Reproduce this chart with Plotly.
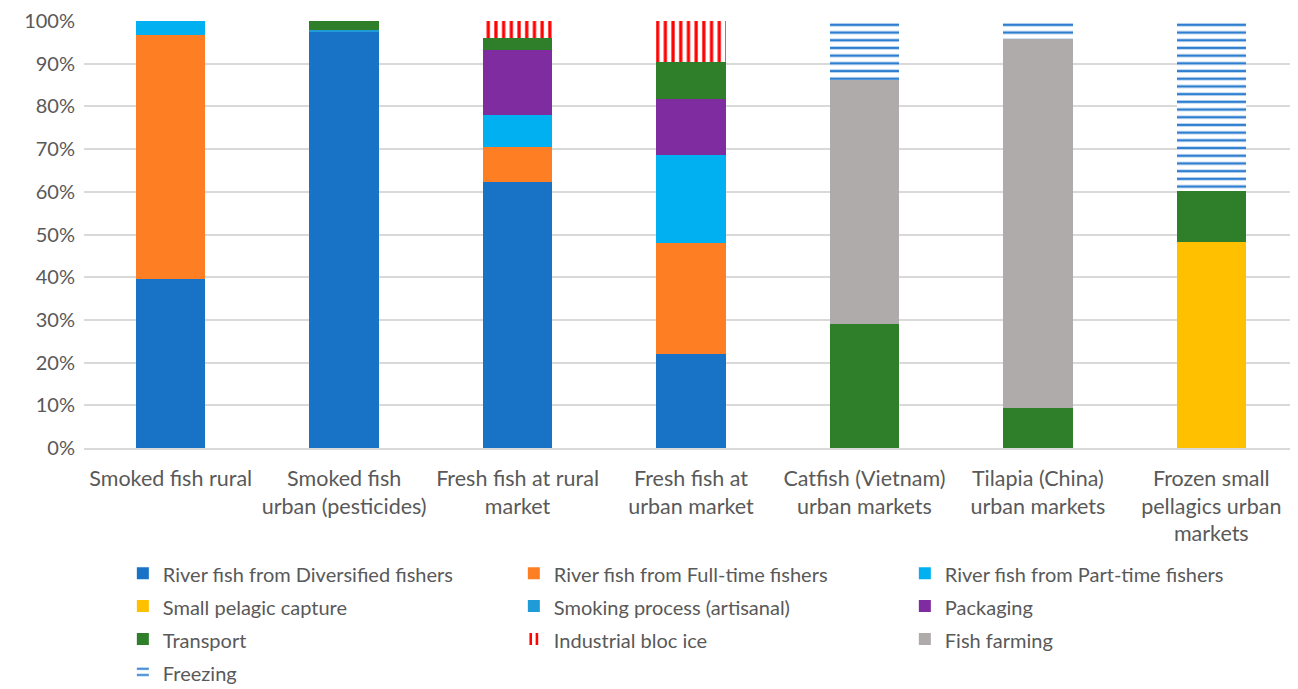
import plotly.graph_objects as go

categories = [
    "Smoked fish rural",
    "Smoked fish<br>urban (pesticides)",
    "Fresh fish at rural<br>market",
    "Fresh fish at<br>urban market",
    "Catfish (Vietnam)<br>urban markets",
    "Tilapia (China)<br>urban markets",
    "Frozen small<br>pellagics urban<br>markets",
]

diversified = [39.5, 97.5, 62.4, 22.0, 0, 0, 0]
full_time = [57.2, 0, 8.1, 26.0, 0, 0, 0]
part_time = [3.3, 0, 7.6, 20.6, 0, 0, 0]
small_pelagic = [0, 0, 0, 0, 0, 0, 48.3]
smoking = [0, 0.5, 0, 0, 0, 0, 0]
packaging = [0, 0, 15.0, 13.1, 0, 0, 0]
transport = [0, 2.0, 3.0, 8.7, 29.0, 9.4, 12.0]
industrial_ice = [0, 0, 3.9, 9.6, 0, 0, 0]
fish_farming = [0, 0, 0, 0, 57.2, 86.5, 0]
freezing = [0, 0, 0, 0, 13.8, 4.1, 39.7]

series = [
    ("River fish from Diversified fishers", diversified, "#1872C6", None, 0),
    ("River fish from Full-time fishers", full_time, "#FD7E23", None, 0),
    ("River fish from Part-time fishers", part_time, "#00B0F0", None, 0),
    ("Small pelagic capture", small_pelagic, "#FFC000", None, 0),
    ("Smoking process (artisanal)", smoking, "#1F9BD8", None, 0),
    ("Packaging", packaging, "#7E2C9F", None, 0),
    ("Transport", transport, "#2F7F2A", None, 0),
    ("Industrial bloc ice", industrial_ice, "#FF0000", "|", 0.42),
    ("Fish farming", fish_farming, "#AFABAB", None, 0),
    ("Freezing", freezing, "#2F7FD0", "-", 0.33),
]

fig = go.Figure()
for name, vals, color, pat, sol in series:
    if pat is None:
        marker = dict(color=color, line=dict(width=0))
    else:
        marker = dict(
            color="white",
            line=dict(width=0),
            pattern=dict(shape=pat, fgcolor=color, bgcolor="white",
                         fgopacity=1, size=7.7, solidity=sol, fillmode="replace"),
        )
    fig.add_trace(go.Bar(
        name='<span style="font-size:20px">' + name + "</span>",
        x=categories, y=[v / 100 for v in vals], marker=marker,
        hovertemplate=name + ": %{y:.1%}<extra></extra>",
    ))

# page body has an 8px default margin, so the figure is sized to compensate
fig.update_layout(
    barmode="stack",
    bargap=0.6,
    width=1290,
    height=681,
    margin=dict(l=76, r=0, t=13, b=241, autoexpand=False),
    plot_bgcolor="white",
    paper_bgcolor="white",
    font=dict(family="Lato, Open Sans, sans-serif", color="#595959", size=20),
    yaxis=dict(
        range=[0, 1],
        tickformat=".0%",
        dtick=0.1,
        gridcolor="#D9D9D9",
        gridwidth=1.5,
        zeroline=False,
        showline=False,
        tickfont=dict(size=20, color="#595959"),
        ticks="",
        ticklabelstandoff=8,
        automargin=False,
    ),
    xaxis=dict(
        showline=True,
        linecolor="#D9D9D9",
        linewidth=1.5,
        tickfont=dict(size=21.5, color="#595959"),
        ticks="",
        ticklabelstandoff=10,
        automargin=False,
    ),
    legend=dict(
        orientation="h",
        x=0.032,
        xanchor="left",
        y=-0.243,
        yanchor="top",
        entrywidth=346,
        entrywidthmode="pixels",
        font=dict(size=23, color="#595959"),
        traceorder="normal",
        itemwidth=30,
    ),
)

fig.write_html("out.html")
